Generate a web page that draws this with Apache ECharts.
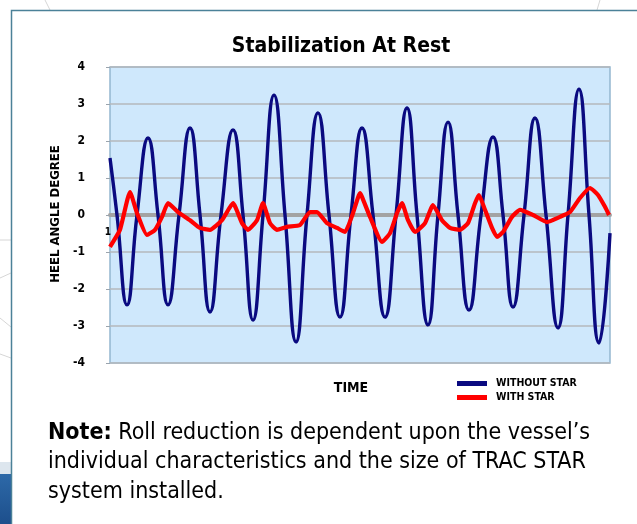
<!DOCTYPE html>
<html>
<head>
<meta charset="utf-8">
<script src="https://cdn.jsdelivr.net/npm/echarts@6/dist/echarts.min.js"></script>
<style>
html,body{margin:0;padding:0;background:#fff;}
#chart{width:637px;height:524px;}
</style>
</head>
<body>
<div id="chart"></div>
<script>
// ---- data ----
var titleText = 'Stabilization At Rest';
var yTicks = [-4, -3, -2, -1, 0, 1, 2, 3, 4];
var seriesNames = ['WITHOUT STAR', 'WITH STAR'];
// time (sample index) and heel angle, without STAR (extremes and zero crossings)
var timeWithout = [0, 7, 17, 27, 38, 48, 58, 69, 80, 90, 100, 111, 123, 133, 143, 153, 164, 175, 186, 197, 208, 219, 230, 241, 252, 263, 275, 286, 297, 307, 318, 328, 338, 348, 359, 371, 383, 393, 403, 414, 425, 436, 448, 458, 469, 479, 489, 500];
var heelWithout = [1.54, 0, -2.43, 0, 2.08, 0, -2.43, 0, 2.35, 0, -2.62, 0, 2.30, 0, -2.84, 0, 3.24, 0, -3.43, 0, 2.76, 0, -2.76, 0, 2.35, 0, -2.76, 0, 2.89, 0, -2.97, 0, 2.51, 0, -2.57, 0, 2.11, 0, -2.49, 0, 2.62, 0, -3.05, 0, 3.40, 0, -3.46, -0.49];
// time and heel angle, with STAR
var timeWith = [0, 10, 20, 27, 37, 45, 52, 58, 68, 80, 90, 100, 112, 123, 132, 138, 147, 153, 160, 167, 177, 190, 200, 207, 217, 227, 235, 243, 250, 252, 260, 272, 280, 287, 292, 298, 305, 315, 323, 332, 340, 350, 358, 365, 369, 375, 382, 387, 393, 402, 410, 423, 437, 450, 460, 470, 480, 488, 495, 499];
var heelWith = [-0.86, -0.40, 0.62, 0.05, -0.54, -0.40, -0.05, 0.32, 0.08, -0.14, -0.35, -0.40, -0.14, 0.32, -0.22, -0.40, -0.14, 0.32, -0.22, -0.40, -0.32, -0.27, 0.08, 0.08, -0.22, -0.35, -0.46, 0.05, 0.59, 0.49, -0.05, -0.73, -0.49, 0.05, 0.32, -0.14, -0.46, -0.22, 0.27, -0.14, -0.35, -0.40, -0.22, 0.32, 0.54, 0.14, -0.35, -0.59, -0.46, -0.05, 0.14, 0.00, -0.19, -0.05, 0.08, 0.46, 0.73, 0.54, 0.22, 0.00];
var yAxisName = 'HEEL ANGLE DEGREE';
var xAxisName = 'TIME';
var xStartLabel = '1';
var noteBold = 'Note:';
var noteLines = [' Roll reduction is dependent upon the vessel\u2019s', 'individual characteristics and the size of TRAC STAR', 'system installed.'];

function pairs(xs, ys) { return xs.map(function (x, i) { return [x, ys[i]]; }); }

var FONT = '"Liberation Sans Narrow","DejaVu Sans Condensed","Liberation Sans",sans-serif';

var chart = echarts.init(document.getElementById('chart'), null, {renderer: 'canvas'});
var option = {
  animation: false,
  backgroundColor: '#ffffff',
  title: {
    text: titleText,
    left: 336, top: 31, textAlign: 'center',
    textStyle: {fontFamily: FONT, fontWeight: 'bold', fontSize: 21, color: '#000'}
  },
  grid: {
    left: 110, top: 67, right: 27, bottom: 161,
    show: true, backgroundColor: '#cfe8fc', borderColor: '#94b6cf', borderWidth: 1.5,
    containLabel: false
  },
  legend: {
    orient: 'vertical', left: 457, top: 378, itemGap: 3, padding: 0,
    itemWidth: 30, itemHeight: 5, icon: 'rect',
    textStyle: {fontFamily: FONT, fontWeight: 'bold', fontSize: 10.5, color: '#000', padding: [0, 0, 0, 4]},
    data: seriesNames
  },
  xAxis: {
    type: 'value', min: 0, max: 500, interval: 500,
    axisLine: {show: true, onZero: true, lineStyle: {color: '#a3a3a3', width: 4}},
    axisTick: {show: false},
    splitLine: {show: false},
    axisLabel: {show: false}
  },
  yAxis: {
    type: 'value', min: yTicks[0], max: yTicks[yTicks.length - 1], interval: 1,
    axisLine: {show: false},
    axisTick: {show: true, length: 4, lineStyle: {color: '#9aa4ad'}},
    splitLine: {show: true, lineStyle: {color: '#b4b8bd', width: 1.5}},
    axisLabel: {margin: 25, fontFamily: FONT, fontWeight: 'bold', fontSize: 12, color: '#000'}
  },
  series: [
    {
      name: seriesNames[0], type: 'line', data: pairs(timeWithout, heelWithout),
      smooth: 0.5, showSymbol: false, symbol: 'none',
      lineStyle: {color: '#0a0a80', width: 3.4}, itemStyle: {color: '#0a0a80'}, z: 3
    },
    {
      name: seriesNames[1], type: 'line', data: pairs(timeWith, heelWith),
      smooth: 0.15, showSymbol: false, symbol: 'none',
      lineStyle: {color: '#ff0000', width: 4.2}, itemStyle: {color: '#ff0000'}, z: 4
    }
  ],
  graphic: [
    // decorative faint lines outside the card
    {type: 'line', shape: {x1: 45, y1: 0, x2: 50, y2: 10}, style: {stroke: '#d6d6d6', lineWidth: 1}, z: -10},
    {type: 'line', shape: {x1: 600, y1: 0, x2: 597, y2: 10}, style: {stroke: '#d6d6d6', lineWidth: 1}, z: -10},
    {type: 'line', shape: {x1: 0, y1: 240, x2: 11, y2: 240}, style: {stroke: '#d6d6d6', lineWidth: 1}, z: -10},
    {type: 'line', shape: {x1: 0, y1: 278, x2: 11, y2: 273}, style: {stroke: '#d6d6d6', lineWidth: 1}, z: -10},
    {type: 'line', shape: {x1: 0, y1: 318, x2: 11, y2: 327}, style: {stroke: '#d6d6d6', lineWidth: 1}, z: -10},
    {type: 'line', shape: {x1: 0, y1: 354, x2: 11, y2: 358}, style: {stroke: '#d6d6d6', lineWidth: 1}, z: -10},
    // blue image strip at bottom left
    {type: 'rect', shape: {x: 0, y: 462, width: 11, height: 12}, style: {fill: '#dde6ee'}, z: -10},
    {type: 'rect', shape: {x: 0, y: 474, width: 11, height: 50}, style: {fill: {type: 'linear', x: 0, y: 0, x2: 0, y2: 1, colorStops: [{offset: 0, color: '#2d69a8'}, {offset: 1, color: '#1d4f8c'}]}}, z: -10},
    // card border
    {type: 'polyline', shape: {points: [[11.5, 530], [11.5, 10.5], [640, 10.5]]}, style: {stroke: '#4b8198', lineWidth: 1.5, fill: null}, z: -5},
    // axis titles and start label
    {type: 'text', x: 56, y: 214, rotation: Math.PI / 2,
      style: {text: yAxisName, font: 'bold 13px ' + FONT, fill: '#000', align: 'center', verticalAlign: 'middle'}},
    {type: 'text', x: 351, y: 388,
      style: {text: xAxisName, font: 'bold 14px ' + FONT, fill: '#000', align: 'center', verticalAlign: 'middle'}},
    {type: 'text', x: 108, y: 232,
      style: {text: xStartLabel, font: 'bold 10px ' + FONT, fill: '#000', align: 'center', verticalAlign: 'middle'}},
    // note
    {type: 'text', x: 48, y: 418,
      style: {
        text: '{b|' + noteBold + '}{r|' + noteLines[0] + '}\n{r|' + noteLines[1] + '}\n{r|' + noteLines[2] + '}',
        fill: '#000', align: 'left', verticalAlign: 'top',
        rich: {
          b: {font: 'bold 23px ' + FONT, fill: '#000', lineHeight: 29.5},
          r: {font: '23px ' + FONT, fill: '#000', lineHeight: 29.5}
        }
      }}
  ]
};
chart.setOption(option);
</script>
</body>
</html>
